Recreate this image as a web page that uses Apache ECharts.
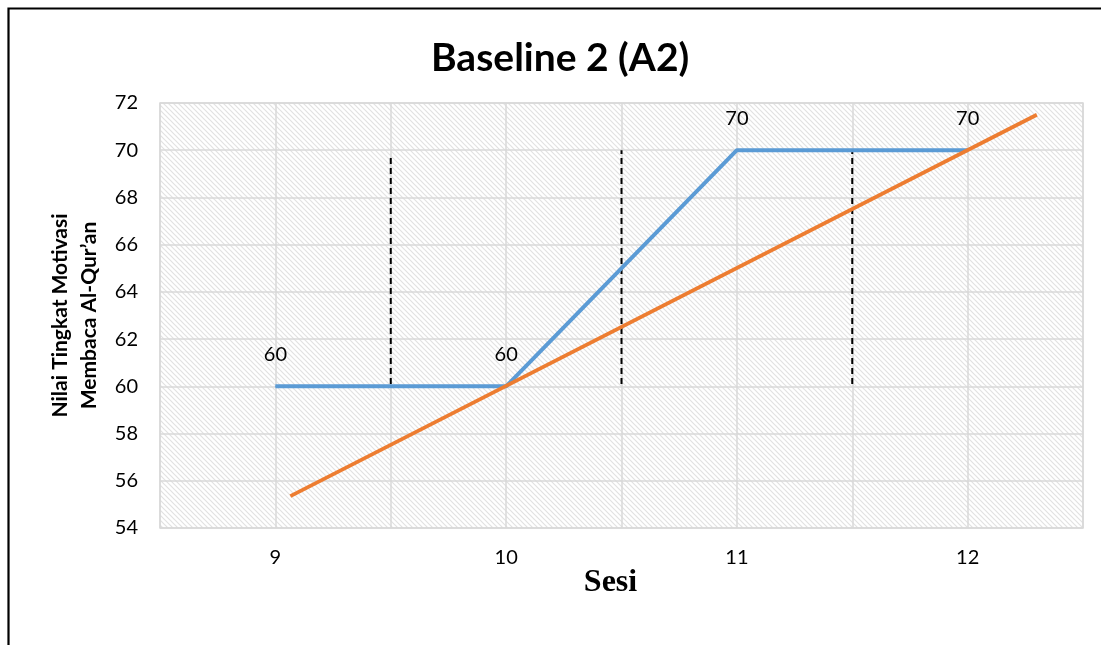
<!DOCTYPE html>
<html>
<head>
<meta charset="utf-8">
<script src="https://cdn.jsdelivr.net/npm/echarts@6/dist/echarts.min.js"></script>
<style>
html,body{margin:0;padding:0;background:#fff;}
#chart{width:1101px;height:645px;}
</style>
</head>
<body>
<div id="chart"></div>
<script>
// Data
const titleText = 'Baseline 2 (A2)';
const sessions = [9, 10, 11, 12];
const scores = [60, 60, 70, 70];
const trendLine = [[9.065, 55.35], [12.3, 71.5]];
const phaseLines = [
  [[9.5, 60.1], [9.5, 69.8]],
  [[10.5, 60.1], [10.5, 70.0]],
  [[11.5, 60.1], [11.5, 70.0]]
];
const yTicks = {min: 54, max: 72, interval: 2};
const xAxisName = 'Sesi';
const yAxisName = 'Nilai Tingkat Motivasi\nMembaca Al-Qur\u2019an';

// hatch pattern
function makeHatch() {
  const s = 5;
  const c = document.createElement('canvas');
  c.width = s; c.height = s;
  const g = c.getContext('2d');
  g.fillStyle = '#ffffff';
  g.fillRect(0, 0, s, s);
  g.strokeStyle = '#e2e2e2';
  g.lineWidth = 1.2;
  g.beginPath();
  g.moveTo(-1, -1); g.lineTo(s + 1, s + 1);
  g.moveTo(-1, s - 1); g.lineTo(1, s + 1);
  g.moveTo(s - 1, -1); g.lineTo(s + 1, 1);
  g.stroke();
  return c;
}

const chart = echarts.init(document.getElementById('chart'));
const font = 'Lato, "Open Sans", sans-serif';

const series = [{
  type: 'line',
  data: sessions.map((s, i) => [s, scores[i]]),
  symbol: 'circle',
  symbolSize: 1,
  showSymbol: true,
  itemStyle: {color: '#5B9BD5'},
  lineStyle: {color: '#5B9BD5', width: 4},
  label: {show: true, position: 'top', distance: 21, color: '#000', fontSize: 20, fontFamily: font,
          formatter: p => String(p.value[1])},
  z: 3
}, {
  type: 'line',
  data: trendLine,
  symbol: 'none',
  lineStyle: {color: '#ED7D31', width: 3.8},
  z: 4
}];
phaseLines.forEach(seg => {
  series.push({
    type: 'line',
    data: seg,
    symbol: 'none',
    lineStyle: {color: '#000', width: 2, type: [6, 4]},
    z: 2
  });
});

chart.setOption({
  animation: false,
  backgroundColor: '#fff',
  title: {
    text: titleText,
    left: 426,
    top: 34,
    textStyle: {fontFamily: font, fontWeight: 'bold', fontSize: 39, color: '#000'}
  },
  grid: {
    left: 160, top: 103, right: 18, bottom: 117,
    show: true,
    backgroundColor: {image: makeHatch(), repeat: 'repeat'},
    borderColor: '#d9d9d9', borderWidth: 1.5
  },
  xAxis: {
    type: 'value',
    min: 8.5, max: 12.5, interval: 0.5,
    name: xAxisName,
    nameLocation: 'middle',
    nameGap: 39,
    nameMoveOverlap: false,
    nameTextStyle: {fontFamily: '"Liberation Serif", serif', fontWeight: 'bold', fontSize: 32, color: '#000',
                    padding: [0, 22, 0, 0]},
    axisLine: {show: false},
    axisTick: {show: false},
    axisLabel: {
      color: '#000', fontSize: 20, fontFamily: font, margin: 20,
      formatter: v => (Math.abs(v - Math.round(v)) < 1e-6 && v >= 9 && v <= 12) ? String(Math.round(v)) : ''
    },
    splitLine: {show: true, lineStyle: {color: '#d9d9d9', width: 1.5}}
  },
  yAxis: {
    type: 'value',
    min: yTicks.min, max: yTicks.max, interval: yTicks.interval,
    name: yAxisName,
    nameLocation: 'middle',
    nameGap: 54,
    nameRotate: 90,
    nameTextStyle: {fontFamily: font, fontWeight: 'bold', fontSize: 21, color: '#000', lineHeight: 29},
    axisLine: {show: false},
    axisTick: {show: false},
    axisLabel: {color: '#000', fontSize: 20, fontFamily: font, margin: 22},
    splitLine: {show: true, lineStyle: {color: '#d9d9d9', width: 1.5}}
  },
  graphic: [{
    type: 'polyline',
    shape: {points: [[8.5, 645], [8.5, 8.5], [1101, 8.5]]},
    style: {stroke: '#000', lineWidth: 2.2, fill: null},
    silent: true
  }],
  series: series
});
</script>
</body>
</html>
